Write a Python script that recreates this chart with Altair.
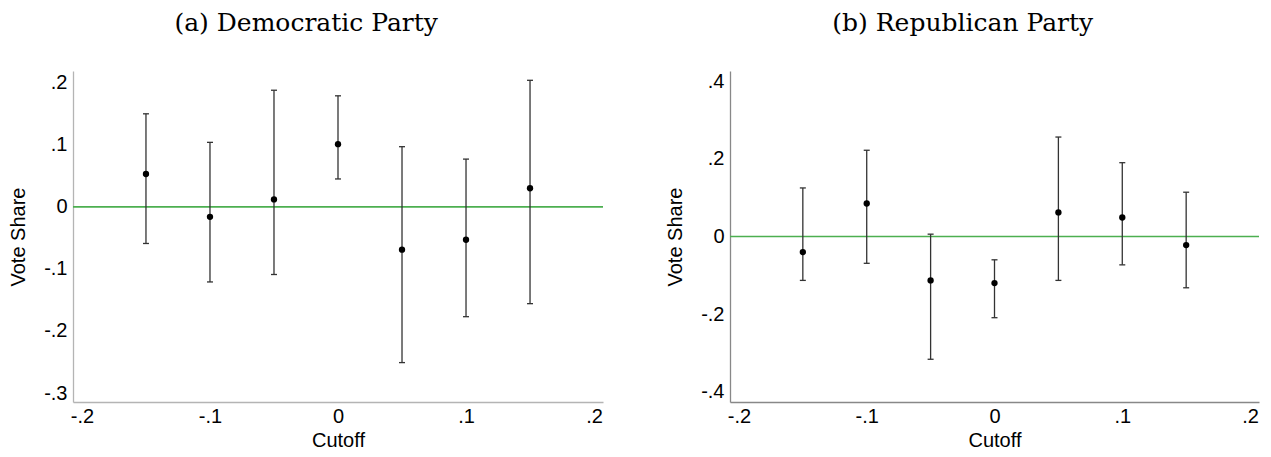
import altair as alt
import pandas as pd

# ---- data ----
cutoffs = [-0.15, -0.10, -0.05, 0.0, 0.05, 0.10, 0.15]

dem_est = [0.053, -0.016, 0.012, 0.101, -0.069, -0.053, 0.030]
dem_lo = [-0.059, -0.121, -0.109, 0.045, -0.251, -0.177, -0.156]
dem_hi = [0.150, 0.104, 0.188, 0.179, 0.097, 0.077, 0.204]

rep_est = [-0.040, 0.085, -0.113, -0.120, 0.062, 0.049, -0.022]
rep_lo = [-0.113, -0.069, -0.316, -0.209, -0.113, -0.073, -0.132]
rep_hi = [0.125, 0.222, 0.006, -0.060, 0.256, 0.190, 0.114]

x_ticks = [-0.2, -0.1, 0.0, 0.1, 0.2]
dem_y_ticks = [-0.3, -0.2, -0.1, 0.0, 0.1, 0.2]
rep_y_ticks = [-0.4, -0.2, 0.0, 0.2, 0.4]

titles = ["(a) Democratic Party", "(b) Republican Party"]

LABEL_EXPR = ("datum.value == 0 ? '0' : (datum.value < 0 ? '-' : '') + '.' + "
              "toString(round(abs(datum.value) * 10))")

SANS = "Liberation Sans"


def panel(title, est, lo, hi, y_domain, y_ticks, axis_color, width):
    df = pd.DataFrame({"cutoff": cutoffs, "est": est, "lo": lo, "hi": hi})
    zero_df = pd.DataFrame({"zero": [0.0]})

    x_scale = alt.Scale(domain=[-0.207, 0.207], nice=False, zero=False)
    y_scale = alt.Scale(domain=y_domain, nice=False, zero=False)

    x_axis = alt.Axis(values=x_ticks, labelExpr=LABEL_EXPR, title="Cutoff",
                      ticks=False, grid=False, domainColor=axis_color,
                      domainWidth=1.3, labelPadding=4, titlePadding=4,
                      labelFont=SANS, labelFontSize=20, titleFont=SANS,
                      titleFontSize=20, titleFontWeight="normal",
                      labelColor="black", titleColor="black",
                      labelFlush=False, labelOverlap=False)
    y_axis = alt.Axis(values=y_ticks, labelExpr=LABEL_EXPR, title="Vote Share",
                      ticks=False, grid=False, domainColor=axis_color,
                      domainWidth=1.3, labelPadding=6, titlePadding=15,
                      labelFont=SANS, labelFontSize=20, titleFont=SANS,
                      titleFontSize=20, titleFontWeight="normal",
                      labelColor="black", titleColor="black",
                      labelFlush=False, labelOverlap=False)

    X = alt.X("cutoff:Q", scale=x_scale, axis=x_axis)

    zero_line = alt.Chart(zero_df).mark_rule(color="#4caf50", strokeWidth=1.6).encode(
        y=alt.Y("zero:Q", scale=y_scale, axis=y_axis)
    )
    base = alt.Chart(df)
    bars = base.mark_rule(color="#333333", strokeWidth=1.3).encode(
        x=X,
        y=alt.Y("lo:Q", scale=y_scale, axis=y_axis),
        y2="hi:Q",
    )
    cap_hi = base.mark_tick(orient="horizontal", size=6, thickness=1.3,
                            color="#333333", opacity=1).encode(
        x=X, y=alt.Y("hi:Q", scale=y_scale, axis=y_axis))
    cap_lo = base.mark_tick(orient="horizontal", size=6, thickness=1.3,
                            color="#333333", opacity=1).encode(
        x=X, y=alt.Y("lo:Q", scale=y_scale, axis=y_axis))
    pts = base.mark_circle(size=40, color="black", opacity=1).encode(
        x=X, y=alt.Y("est:Q", scale=y_scale, axis=y_axis))

    return alt.layer(zero_line, bars, cap_hi, cap_lo, pts).properties(
        width=width, height=331,
        title=alt.TitleParams(titles[title], font="DejaVu Serif",
                              fontSize=25, fontWeight="normal", color="black",
                              anchor="middle", frame="bounds", offset=35),
    )


left = panel(0, dem_est, dem_lo, dem_hi, [-0.3145, 0.219], dem_y_ticks, "#b4b4b4", 530)
right = panel(1, rep_est, rep_lo, rep_hi, [-0.426, 0.426], rep_y_ticks, "#888888", 529)

chart = alt.hconcat(left, right, spacing=61).properties(
    padding={"top": 3, "left": 0, "right": 0, "bottom": 0}
).configure_view(stroke=None)

chart.save("out.html", embed_options={"renderer": "svg", "actions": False})
